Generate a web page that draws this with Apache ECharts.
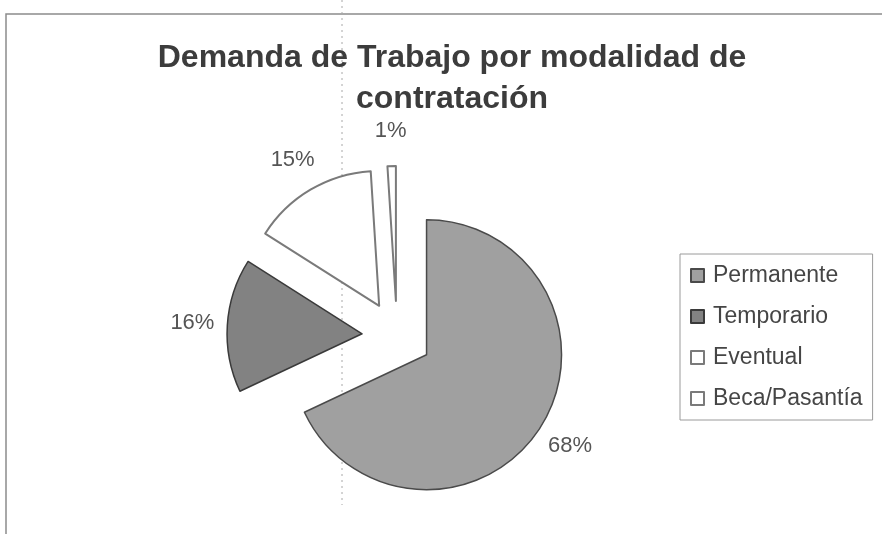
<!DOCTYPE html>
<html>
<head>
<meta charset="utf-8">
<title>Demanda de Trabajo por modalidad de contratación</title>
<script src="https://cdn.jsdelivr.net/npm/echarts@6/dist/echarts.min.js"></script>
<style>
  html, body { margin: 0; padding: 0; background: #fff; }
  #chart { width: 882px; height: 534px; }
</style>
</head>
<body>
<div id="chart"></div>
<script>
// data
const categories = ['Permanente', 'Temporario', 'Eventual', 'Beca/Pasantía']
const values = [68, 16, 15, 1]
const sliceColors = ['#a0a0a0', '#828282', '#ffffff', '#ffffff']
const borderColors = ['#4a4a4a', '#3a3a3a', '#7a7a7a', '#7a7a7a']

// pie geometry
const pieCenter = [397, 336]
const pieRadius = 135
const explode = 35

const chart = echarts.init(document.getElementById('chart'))

const labelStyle = {
  fontFamily: 'Liberation Sans',
  fontSize: 22,
  color: '#555555'
}

const option = {
  backgroundColor: '#ffffff',
  animation: false,
  title: {
    text: 'Demanda de Trabajo por modalidad de\ncontratación',
    left: 447,
    top: 33,
    textAlign: 'center',
    textStyle: {
      fontFamily: 'Liberation Sans',
      fontSize: 32,
      fontWeight: 'bold',
      color: '#3c3c3c',
      lineHeight: 41
    }
  },
  legend: {
    orient: 'vertical',
    left: 680,
    top: 254,
    padding: [10, 10, 10, 10],
    borderColor: '#9a9a9a',
    borderWidth: 1,
    itemWidth: 13,
    itemHeight: 13,
    itemGap: 18,
    icon: 'rect',
    selectedMode: false,
    textStyle: {
      fontFamily: 'Liberation Sans',
      fontSize: 23,
      color: '#454545',
      padding: [0, 0, 0, 4]
    },
    data: categories
  },
  graphic: [
    {
      type: 'rect',
      silent: true,
      z: -10,
      shape: { x: 6, y: 14, width: 900, height: 600 },
      style: { fill: 'none', stroke: '#8c8c8c', lineWidth: 1.5 }
    },
    {
      type: 'line',
      silent: true,
      z: -10,
      shape: { x1: 342, y1: 0, x2: 342, y2: 505 },
      style: { stroke: '#a8a8a8', lineWidth: 1, lineDash: [2, 4] }
    }
  ],
  series: [
    {
      // exploded pie
      name: 'Modalidad',
      type: 'pie',
      center: pieCenter,
      radius: pieRadius,
      startAngle: 90,
      clockwise: true,
      selectedMode: 'multiple',
      selectedOffset: explode,
      emphasis: { disabled: true },
      label: { show: false },
      labelLine: { show: false },
      data: categories.map((name, i) => ({
        name: name,
        value: values[i],
        selected: true,
        itemStyle: {
          color: sliceColors[i],
          borderColor: borderColors[i],
          borderWidth: i < 2 ? 1.5 : 2
        },
        select: {
          itemStyle: {
            color: sliceColors[i],
            borderColor: borderColors[i],
            borderWidth: i < 2 ? 1.5 : 2
          }
        }
      }))
    },
    {
      // invisible ring that carries the percentage labels outside the slices
      name: 'Etiquetas',
      type: 'pie',
      center: pieCenter,
      radius: [193, 211],
      startAngle: 90,
      clockwise: true,
      silent: true,
      selectedMode: false,
      emphasis: { disabled: true },
      itemStyle: { color: 'rgba(0,0,0,0)', borderWidth: 0 },
      label: Object.assign({ show: true, position: 'inside', formatter: '{d}%' }, labelStyle),
      labelLine: { show: false },
      data: categories.map((name, i) => ({ name: name, value: values[i] }))
    }
  ]
}

chart.setOption(option)
</script>
</body>
</html>
